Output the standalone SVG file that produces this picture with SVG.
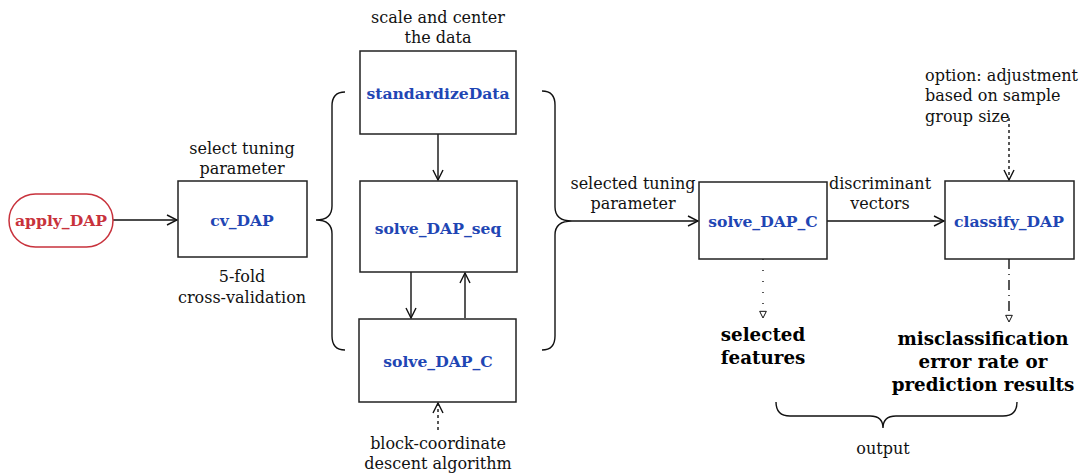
<svg xmlns="http://www.w3.org/2000/svg" width="1086" height="475" viewBox="0 0 1086 475">
<defs>
<style>
text{font-family:"DejaVu Serif","Liberation Serif",serif;text-anchor:middle;fill:#111}
.lbl{font-size:16px}
.fn{font-size:15.6px;font-weight:bold;fill:#1f46b4}
.red{fill:#c8323c}
.out{font-size:18.3px;font-weight:bold;fill:#000}
.box{fill:#fff;stroke:#222;stroke-width:1.5}
.ln{fill:none;stroke:#111;stroke-width:1.4}
</style>
<marker id="open" viewBox="0 0 12 12" refX="11" refY="6" markerWidth="12" markerHeight="12" markerUnits="userSpaceOnUse" orient="auto">
<path d="M1,1 L11,6 L1,11" fill="none" stroke="#111" stroke-width="1.4"/>
</marker>
<marker id="tri" viewBox="0 0 10 12" refX="9" refY="5" markerWidth="10" markerHeight="10" markerUnits="userSpaceOnUse" orient="auto">
<path d="M1,1 L9,5 L1,9 Z" fill="#fff" stroke="#111" stroke-width="1.2"/>
</marker>
</defs>

<g id="connectors">
<line class="ln" x1="113" y1="220" x2="177" y2="220" marker-end="url(#open)"/>
<line class="ln" x1="438" y1="134" x2="438" y2="180" marker-end="url(#open)"/>
<line class="ln" x1="411" y1="272" x2="411" y2="318" marker-end="url(#open)"/>
<line class="ln" x1="465" y1="318" x2="465" y2="273" marker-end="url(#open)"/>
<line class="ln" x1="438" y1="430" x2="438" y2="403" stroke-dasharray="3,3" marker-end="url(#open)"/>
<line class="ln" x1="572" y1="221" x2="698" y2="221" marker-end="url(#open)"/>
<line class="ln" x1="827" y1="221" x2="944" y2="221" marker-end="url(#open)"/>
<line class="ln" x1="1009" y1="118" x2="1009" y2="180" stroke-dasharray="3,3" marker-end="url(#open)"/>
<line class="ln" x1="763" y1="259" x2="763" y2="318" stroke-dasharray="1,10" marker-end="url(#tri)"/>
<line class="ln" x1="1009" y1="259" x2="1009" y2="322" stroke-dasharray="10,5,1,5" marker-end="url(#tri)"/>
<path class="ln" d="M345,92 Q332,92 332,106 L332,206 Q332,220 316,220 Q332,220 332,234 L332,336 Q332,350 345,350"/>
<path class="ln" d="M542,91 Q555,91 555,105 L555,207 Q555,221 572,221 Q555,221 555,235 L555,336 Q555,350 542,350"/>
<path class="ln" d="M776,402 Q776,416 790,416 L870,416 Q883,416 883,428 Q883,416 896,416 L1003,416 Q1017,416 1017,402"/>
</g>

<g id="apply_DAP">
<rect x="9" y="194" width="104" height="53" rx="26.5" fill="#fff" stroke="#c8323c" stroke-width="1.5"/>
<text class="fn red" x="61" y="226">apply_DAP</text>
</g>
<g id="cv_DAP">
<rect class="box" x="178" y="181" width="129" height="76"/>
<text class="fn" x="242" y="226">cv_DAP</text>
<text class="lbl" x="242" y="154">select tuning</text>
<text class="lbl" x="242" y="174">parameter</text>
<text class="lbl" x="242" y="282">5-fold</text>
<text class="lbl" x="242" y="303">cross-validation</text>
</g>
<g id="standardizeData">
<rect class="box" x="360" y="51" width="156" height="83"/>
<text class="fn" x="438" y="99">standardizeData</text>
<text class="lbl" x="438" y="23">scale and center</text>
<text class="lbl" x="438" y="43">the data</text>
</g>
<g id="solve_DAP_seq">
<rect class="box" x="360" y="181" width="157" height="91"/>
<text class="fn" x="438" y="234">solve_DAP_seq</text>
</g>
<g id="solve_DAP_C_inner">
<rect class="box" x="359" y="319" width="157" height="83"/>
<text class="fn" x="438" y="367">solve_DAP_C</text>
<text class="lbl" x="438" y="449">block-coordinate</text>
<text class="lbl" x="438" y="469">descent algorithm</text>
</g>
<g id="solve_DAP_C">
<rect class="box" x="699" y="182" width="128" height="77"/>
<text class="fn" x="763" y="227">solve_DAP_C</text>
<text class="lbl" x="633" y="189">selected tuning</text>
<text class="lbl" x="633" y="209">parameter</text>
</g>
<g id="classify_DAP">
<rect class="box" x="945" y="181" width="129" height="78"/>
<text class="fn" x="1009" y="227">classify_DAP</text>
<text class="lbl" x="880" y="189">discriminant</text>
<text class="lbl" x="880" y="209">vectors</text>
<text class="lbl" x="925" y="81" style="text-anchor:start">option: adjustment</text>
<text class="lbl" x="925" y="101" style="text-anchor:start">based on sample</text>
<text class="lbl" x="925" y="122" style="text-anchor:start">group size</text>
</g>
<g id="selected_features">
<text class="out" x="763" y="341">selected</text>
<text class="out" x="763" y="364">features</text>
</g>
<g id="misclassification">
<text class="out" x="983" y="345">misclassification</text>
<text class="out" x="983" y="368">error rate or</text>
<text class="out" x="983" y="391">prediction results</text>
</g>
<g id="output">
<text class="lbl" x="883" y="454">output</text>
</g>
</svg>
